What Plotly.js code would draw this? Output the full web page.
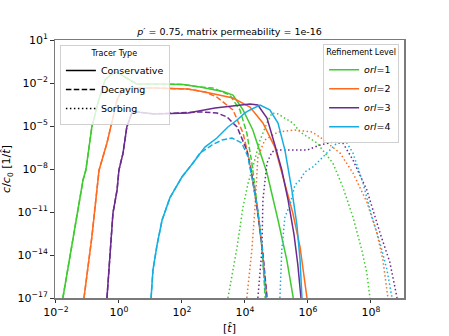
<!DOCTYPE html>
<html>
<head>
<meta charset="utf-8">
<script src="https://cdn.plot.ly/plotly-3.0.1.min.js"></script>
<style>
body { margin: 0; background: #fff; }
#plot { width: 449px; height: 336px; }
</style>
</head>
<body>
<div id="plot"></div>
<script>
// values are log10 exponents
// orl = 1
var orl1_cons_t = [-1.78, -1.14, -1.05, -0.86, -0.67, -0.44, -0.25, -0.06, 0.2, 0.57, 1.14, 2.03, 2.57, 3.0, 3.3, 3.62, 3.94, 4.25, 4.70, 5.05, 5.33, 5.55];
var orl1_cons_c = [-17, -8.77, -8.07, -5.07, -3.40, -1.79, -1.4, -1.23, -1.6, -2.07, -2.07, -2.1, -2.28, -2.45, -2.6, -2.84, -3.88, -5.28, -8.28, -11.56, -14.35, -17.2];
var orl1_dec_t = [-1.78, -1.14, -1.05, -0.86, -0.67, -0.44, -0.25, -0.06, 0.2, 0.57, 1.14, 2.03, 2.57, 2.98, 3.52, 3.84, 4.06, 4.22, 4.38, 4.54, 4.65];
var orl1_dec_c = [-17, -8.77, -8.07, -5.07, -3.40, -1.79, -1.4, -1.23, -1.6, -2.07, -2.07, -2.1, -2.28, -2.35, -2.84, -3.88, -5.49, -7.58, -10.37, -13.45, -17.2];
var orl1_sorb_t = [3.46, 3.75, 3.94, 4.10, 4.25, 4.48, 4.70, 4.86, 5.05, 5.52, 5.75, 6.29, 6.79, 7.11, 7.43, 7.71, 7.87, 7.97];
var orl1_sorb_c = [-17, -13.45, -10.65, -8.98, -7.86, -5.98, -4.79, -4.09, -4.16, -4.79, -5.42, -6.19, -7.58, -9.26, -11.35, -13.65, -15.26, -17];

// orl = 2
var orl2_cons_t = [-1.11, -0.86, -0.70, -0.63, -0.38, -0.22, -0.06, 0.10, 0.41, 1.14, 2.19, 2.73, 3.62, 4.16, 4.57, 4.95, 5.21, 5.52, 5.75, 5.90, 5.97];
var orl2_cons_c = [-17, -12.75, -9.47, -8.07, -6.19, -4.58, -3.19, -2.49, -2.35, -2.35, -2.42, -2.63, -3.05, -3.68, -4.79, -6.47, -8.56, -11.07, -13.45, -15.75, -17];
var orl2_dec_t = [-1.11, -0.86, -0.70, -0.63, -0.38, -0.22, -0.06, 0.10, 0.41, 1.14, 2.19, 2.73, 3.11, 3.62, 3.94, 4.16, 4.38, 4.54, 4.70];
var orl2_dec_c = [-17, -12.75, -9.47, -8.07, -6.19, -4.58, -3.19, -2.49, -2.35, -2.35, -2.42, -2.63, -2.98, -3.88, -5.49, -7.58, -10.65, -13.45, -17];
var orl2_sorb_t = [4.06, 4.22, 4.32, 4.35, 4.41, 4.63, 5.05, 5.59, 6.13, 6.38, 6.79, 7.02, 7.43, 7.87, 8.19, 8.38, 8.54];
var orl2_sorb_c = [-17, -13.65, -10.65, -9.47, -7.16, -5.98, -5.42, -5.28, -5.42, -5.77, -6.47, -6.89, -8.28, -10.3, -12.47, -14.35, -17];

// orl = 3
var orl3_cons_t = [-0.38, -0.29, -0.19, -0.06, 0.0, 0.13, 0.25, 0.41, 0.57, 1.14, 2.19, 3.05, 3.68, 4.16, 4.41, 4.70, 4.95, 5.17, 5.37, 5.56, 5.68, 5.78];
var orl3_cons_c = [-17, -14.0, -11.07, -9.47, -8.07, -6.89, -5.07, -4.09, -4.02, -4.16, -4.09, -3.75, -3.6, -3.47, -3.54, -4.44, -6.33, -8.07, -10.17, -12.6, -14.7, -17];
var orl3_dec_t = [-0.38, -0.29, -0.19, -0.06, 0.0, 0.13, 0.25, 0.41, 0.57, 1.14, 2.19, 2.57, 3.11, 3.43, 3.75, 4.06, 4.25, 4.41, 4.57, 4.70];
var orl3_dec_c = [-17, -14.0, -11.07, -9.47, -8.07, -6.89, -5.07, -4.09, -4.02, -4.16, -4.09, -4.02, -4.09, -4.37, -5.07, -6.68, -8.77, -11.07, -13.86, -17];
var orl3_sorb_t = [4.41, 4.54, 4.57, 4.70, 4.86, 5.02, 5.59, 5.97, 6.38, 6.79, 7.11, 7.43, 7.87, 8.29, 8.60, 8.83];
var orl3_sorb_c = [-17, -13.65, -10.17, -7.58, -6.8, -6.68, -6.68, -6.68, -6.33, -6.12, -6.19, -7.37, -9.47, -12.47, -14.5, -17];

// orl = 4
var orl4_cons_t = [1.02, 1.08, 1.21, 1.37, 1.62, 2.0, 2.35, 2.73, 3.11, 3.46, 3.75, 4.0, 4.16, 4.48, 4.79, 5.05, 5.27, 5.49, 5.65, 5.75, 5.81];
var orl4_cons_c = [-17, -15.05, -13.3, -11.56, -10.0, -8.56, -7.58, -6.47, -5.84, -5.07, -4.58, -4.09, -3.88, -3.54, -3.88, -4.79, -6.68, -9.47, -11.9, -14.35, -17];
var orl4_dec_t = [1.02, 1.08, 1.21, 1.37, 1.62, 2.0, 2.35, 2.57, 2.95, 3.27, 3.59, 3.90, 4.10, 4.25, 4.41, 4.54, 4.67];
var orl4_dec_c = [-17, -15.05, -13.3, -11.56, -10.0, -8.56, -7.58, -6.9, -6.33, -5.98, -5.84, -6.19, -7.16, -8.98, -10.86, -13.3, -17];
var orl4_sorb_t = [5.11, 5.17, 5.27, 5.43, 5.59, 5.75, 5.90, 6.16, 6.60, 6.92, 7.24, 7.43, 7.75, 7.97, 8.29, 8.51, 8.67];
var orl4_sorb_c = [-17, -13.65, -11.35, -10.5, -9.1, -8.77, -8.2, -7.86, -6.89, -6.19, -6.19, -6.89, -8.98, -10.86, -13.17, -15.05, -17];

var orl_labels = ["<i>orl</i>=1", "<i>orl</i>=2", "<i>orl</i>=3", "<i>orl</i>=4"];
var orl_colors = ["#3fcb2f", "#ff6a1f", "#6a2a8e", "#16aee2"];
var tracer_labels = ["Conservative", "Decaying", "Sorbing"];
var tracer_dash = ["solid", "5.5px,2.4px", "1.5px,2.5px"];

// tick positions (exponents) and labels
var x_tick_exp = [-2, 0, 2, 4, 6, 8];
var x_tick_text = ["10<sup>−2</sup>", "10<sup>0</sup>", "10<sup>2</sup>", "10<sup>4</sup>", "10<sup>6</sup>", "10<sup>8</sup>"];
var y_tick_exp = [1, -2, -5, -8, -11, -14, -17];
var y_tick_text = ["10<sup>1</sup>", "10<sup>−2</sup>", "10<sup>−5</sup>", "10<sup>−8</sup>", "10<sup>−11</sup>", "10<sup>−14</sup>", "10<sup>−17</sup>"];

function pow10(a) {
	return a.map(function (v) { return Math.pow(10, v); });
}

function curve(t, c, color, dash) {
	return {
		mode: "lines",
		x: pow10(t),
		y: pow10(c),
		showlegend: false,
		hoverinfo: "skip",
		line: { color: color, width: 1.5, dash: dash }
	};
}

var sets = [
	[orl1_cons_t, orl1_cons_c, orl1_dec_t, orl1_dec_c, orl1_sorb_t, orl1_sorb_c],
	[orl2_cons_t, orl2_cons_c, orl2_dec_t, orl2_dec_c, orl2_sorb_t, orl2_sorb_c],
	[orl3_cons_t, orl3_cons_c, orl3_dec_t, orl3_dec_c, orl3_sorb_t, orl3_sorb_c],
	[orl4_cons_t, orl4_cons_c, orl4_dec_t, orl4_dec_c, orl4_sorb_t, orl4_sorb_c]
];

var data = [];
for (var i = 0; i < sets.length; i++) {
	for (var k = 0; k < 3; k++) {
		data.push(curve(sets[i][2 * k], sets[i][2 * k + 1], orl_colors[i], tracer_dash[k]));
	}
}

// legend-only entries
for (var k = 0; k < 3; k++) {
	data.push({
		mode: "lines", x: [null], y: [null], name: tracer_labels[k],
		legend: "legend", hoverinfo: "skip",
		line: { color: "#000", width: 1.5, dash: tracer_dash[k] }
	});
}
for (var i = 0; i < 4; i++) {
	data.push({
		mode: "lines", x: [null], y: [null], name: orl_labels[i],
		legend: "legend2", hoverinfo: "skip",
		line: { color: orl_colors[i], width: 1.5 }
	});
}

var axisline = "#7a7a7a";

var layout = {
	width: 449,
	height: 336,
	paper_bgcolor: "#fff",
	plot_bgcolor: "#fff",
	font: { family: "DejaVu Sans", size: 11, color: "#000" },
	margin: { l: 55, r: 45, t: 40, b: 38 },
	title: {
		text: "<i>p</i>′ = 0.75, matrix permeability = 1e-16",
		font: { size: 9.5 },
		x: 0.5, xref: "paper",
		y: 1 - 32 / 336, yref: "container", yanchor: "middle"
	},
	xaxis: {
		type: "log",
		range: [-2.03, 9.05],
		tickmode: "array",
		tickvals: pow10(x_tick_exp),
		ticktext: x_tick_text,
		showgrid: false,
		zeroline: false,
		showline: true,
		mirror: true,
		linecolor: axisline,
		linewidth: 1.5,
		ticks: "outside",
		ticklen: 3.5,
		tickcolor: "#333",
		tickfont: { size: 11 },
		title: { text: "[<i>t̂</i>]", font: { size: 11 }, standoff: 6 }
	},
	yaxis: {
		type: "log",
		range: [-17, 1],
		tickmode: "array",
		tickvals: pow10(y_tick_exp),
		ticktext: y_tick_text,
		showgrid: false,
		zeroline: false,
		showline: true,
		mirror: true,
		linecolor: axisline,
		linewidth: 1.5,
		ticks: "outside",
		ticklen: 3.5,
		tickcolor: "#333",
		tickfont: { size: 11 },
		title: { text: "<i>c</i>/<i>c</i><sub>0</sub> [1/<i>t̂</i>]", font: { size: 11 }, standoff: 4 }
	},
	legend: {
		x: 0.014, y: 0.982, xanchor: "left", yanchor: "top",
		bgcolor: "rgba(255,255,255,0.8)",
		bordercolor: "#d0d0d0", borderwidth: 1,
		font: { size: 9.5 },
		title: { text: "Tracer Type", side: "top center", font: { size: 8 } },
		tracegroupgap: 0,
		itemwidth: 30
	},
	legend2: {
		x: 0.986, y: 0.985, xanchor: "right", yanchor: "top",
		bgcolor: "rgba(255,255,255,0.8)",
		bordercolor: "#d0d0d0", borderwidth: 1,
		font: { size: 9.5 },
		title: { text: "Refinement Level", side: "top center", font: { size: 8 } },
		tracegroupgap: 0,
		itemwidth: 30
	}
};

Plotly.newPlot("plot", data, layout, { displayModeBar: false, staticPlot: true });
</script>
</body>
</html>
